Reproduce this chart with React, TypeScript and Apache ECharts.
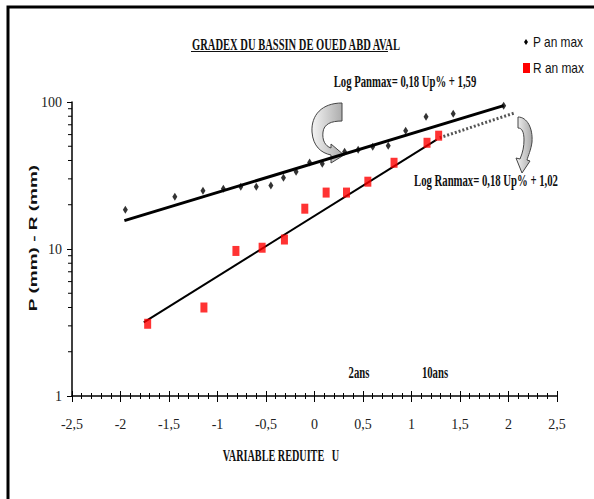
import React, { useEffect, useRef } from "react";
import * as echarts from "echarts";

// Annual maxima plotted against the Gumbel reduced variable U
const pU = [-1.95, -1.44, -1.15, -0.94, -0.76, -0.6, -0.45, -0.32, -0.19, -0.05, 0.08, 0.31, 0.45, 0.6, 0.76, 0.94, 1.15, 1.43, 1.95];
const pMax = [18.5, 22.7, 24.9, 25.7, 26.5, 26.5, 27.0, 30.5, 33.6, 38.7, 38.0, 45.9, 47.4, 49.7, 50.4, 63.8, 79.4, 83.2, 94.4];

const rU = [-1.72, -1.14, -0.81, -0.54, -0.31, -0.1, 0.12, 0.33, 0.55, 0.82, 1.16, 1.28];
const rMax = [3.1, 4.0, 9.7, 10.2, 11.6, 18.8, 24.2, 24.2, 28.7, 38.6, 52.8, 59.0];

// Fitted lines (end points) and the gradex extrapolation of the runoff line
const pFitU = [-1.96, 1.95];
const pFit = [15.6, 94.4];
const rFitU = [-1.76, 1.26];
const rFit = [3.17, 55.4];
const rExtU = [1.29, 2.07];
const rExt = [57.1, 84.6];

// Intermediate log ticks on the value axis
const minorTicks = [2, 3, 4, 5, 6, 7, 8, 9, 20, 30, 40, 50, 60, 70, 80, 90];

const title = "GRADEX DU BASSIN DE OUED ABD AVAL";
const eqP = "Log Panmax= 0,18 Up% + 1,59";
const eqR = "Log Ranmax= 0,18 Up% + 1,02";
const xTitle = "VARIABLE REDUITE   U";
const yTitle = "P (mm) - R (mm)";
const legendP = "P an max";
const legendR = "R an max";
const returnLabels = ["2ans", "10ans"];

const pair = (xs: number[], ys: number[]) => xs.map((x, i) => [x, ys[i]]);

let shapesReady = false;
function registerArrows() {
  if (shapesReady) return;
  shapesReady = true;
  echarts.graphic.registerShape(
    "curvedArrowA",
    echarts.graphic.extendPath(
      "M342 103 C322 103 311 115 312 132 C313 146 321 153 331 155 L331 163 L344 155 L331 144 L331 148 C325 146 322 140 323 132 C324 124 331 121 342 121 Z",
      {}
    )
  );
  echarts.graphic.registerShape(
    "curvedArrowB",
    echarts.graphic.extendPath(
      "M518 117 C527 117 533 128 532 142 C531 150 528 156 527 160 L530 161 L522 173 L516 158 L520 159 C523 152 524 146 524 140 C524 132 522 128 518 128 Z",
      {}
    )
  );
}

const serif = "'Liberation Serif', 'Times New Roman', serif";
const sans = "'Liberation Sans', Arial, sans-serif";

export default function App() {
  const ref = useRef<HTMLDivElement>(null);

  useEffect(() => {
    if (!ref.current) return;
    registerArrows();
    const chart = echarts.init(ref.current, null, { renderer: "svg" });

    const arrowFill = new echarts.graphic.LinearGradient(0, 0, 1, 0, [
      { offset: 0, color: "#f4f4f4" },
      { offset: 1, color: "#a8a8a8" },
    ]);

    const condensed = (text: string, x: number, y: number, size: number, align: string, font = serif, weight = "bold", sx = 0.62) => ({
      type: "text",
      x,
      y,
      scaleX: sx,
      style: {
        text,
        fill: "#111",
        font: `${weight} ${size}px ${font}`,
        textAlign: align,
        textVerticalAlign: "middle",
      },
    });

    chart.setOption({
      animation: false,
      backgroundColor: "#ffffff",
      grid: { left: 72, right: 37, top: 102, bottom: 103 },
      xAxis: [
        {
          type: "value",
          min: -2.5,
          max: 2.5,
          interval: 0.5,
          position: "bottom",
          axisLine: { onZero: false, lineStyle: { color: "#000", width: 1.5 } },
          axisTick: { show: true, length: 6, lineStyle: { color: "#000" } },
          minorTick: { show: true, splitNumber: 5, length: 3, lineStyle: { color: "#000" } },
          splitLine: { show: false },
          axisLabel: {
            margin: 21,
            color: "#222",
            fontFamily: serif,
            fontSize: 14,
            formatter: (v: number) => String(v).replace(".", ","),
          },
        },
        {
          type: "value",
          min: -2.5,
          max: 2.5,
          interval: 0.5,
          position: "bottom",
          axisLine: { show: false, onZero: false },
          axisTick: { show: true, inside: true, length: 5, lineStyle: { color: "#000" } },
          minorTick: { show: true, splitNumber: 5, length: 3, lineStyle: { color: "#000" } },
          splitLine: { show: false },
          axisLabel: { show: false },
        },
      ],
      yAxis: {
        type: "log",
        logBase: 10,
        min: 1,
        max: 100,
        position: "left",
        axisLine: { show: true, onZero: false, lineStyle: { color: "#000", width: 1.5 } },
        axisTick: { show: true, length: 5, lineStyle: { color: "#000" } },
        splitLine: { show: false },
        axisLabel: { margin: 10, color: "#222", fontFamily: serif, fontSize: 14 },
      },
      series: [
        {
          name: legendP,
          type: "scatter",
          symbol: "diamond",
          symbolSize: [5, 8],
          itemStyle: { color: "#000" },
          data: pair(pU, pMax),
          z: 2,
        },
        {
          name: "Pfit",
          type: "line",
          showSymbol: false,
          lineStyle: { color: "#000", width: 3 },
          data: pair(pFitU, pFit),
          z: 3,
        },
        {
          name: "Rfit",
          type: "line",
          showSymbol: false,
          lineStyle: { color: "#000", width: 2 },
          data: pair(rFitU, rFit),
          z: 3,
        },
        {
          name: "Rext",
          type: "line",
          showSymbol: false,
          lineStyle: { color: "#555", width: 3, type: [2, 2] },
          data: pair(rExtU, rExt),
          z: 3,
        },
        {
          name: legendR,
          type: "scatter",
          symbol: "rect",
          symbolSize: [7, 10],
          itemStyle: { color: "#ff0000" },
          data: pair(rU, rMax),
          z: 4,
        },
        {
          name: "minorTicks",
          type: "custom",
          silent: true,
          clip: false,
          data: minorTicks.map((v) => [-2.5, v]),
          renderItem: (_params: any, api: any) => {
            const p = api.coord([api.value(0), api.value(1)]);
            return {
              type: "line",
              shape: { x1: p[0] - 4, y1: p[1], x2: p[0], y2: p[1] },
              style: { stroke: "#000", lineWidth: 1 },
            };
          },
          z: 5,
        },
      ],
      graphic: [
        // frame
        {
          type: "polyline",
          shape: { points: [[8, 499], [8, 7], [594, 7]] },
          style: { stroke: "#000", lineWidth: 3, fill: "none" },
        },
        condensed(title, 296, 44, 17, "center"),
        {
          type: "line",
          shape: { x1: 191, y1: 51.5, x2: 388, y2: 51.5 },
          style: { stroke: "#111", lineWidth: 1 },
        },
        condensed(eqP, 405, 81, 17, "center", serif, "bold", 0.63),
        condensed(eqR, 486, 180, 17, "center", serif, "bold", 0.63),
        condensed(returnLabels[0], 359, 372, 17, "center", serif, "bold", 0.63),
        condensed(returnLabels[1], 435, 372, 17, "center", serif, "bold", 0.63),
        condensed(xTitle, 281, 456, 17, "center", serif, "bold", 0.6),
        {
          type: "text",
          x: 33,
          y: 238,
          rotation: Math.PI / 2,
          scaleY: 0.62,
          style: {
            text: yTitle,
            fill: "#111",
            font: `bold 19px ${sans}`,
            textAlign: "center",
            textVerticalAlign: "middle",
          },
        },
        // legend
        {
          type: "polygon",
          shape: { points: [[526, 39], [528, 42], [526, 45], [524, 42]] },
          style: { fill: "#000" },
        },
        condensed(legendP, 533, 42, 14, "left", sans, "normal", 0.85),
        {
          type: "rect",
          shape: { x: 523, y: 63, width: 7, height: 10 },
          style: { fill: "#ff0000" },
        },
        condensed(legendR, 533, 68, 14, "left", sans, "normal", 0.85),
        // callout arrows
        {
          type: "curvedArrowA",
          x: 0,
          y: 0,
          style: { fill: arrowFill, stroke: "#444", lineWidth: 1 },
        },
        {
          type: "curvedArrowB",
          x: 0,
          y: 0,
          style: { fill: arrowFill, stroke: "#444", lineWidth: 1 },
        },
      ],
    });

    return () => chart.dispose();
  }, []);

  return (
    <div
      ref={ref}
      style={{ position: "absolute", left: 0, top: 0, width: 594, height: 499, background: "#fff" }}
    />
  );
}
